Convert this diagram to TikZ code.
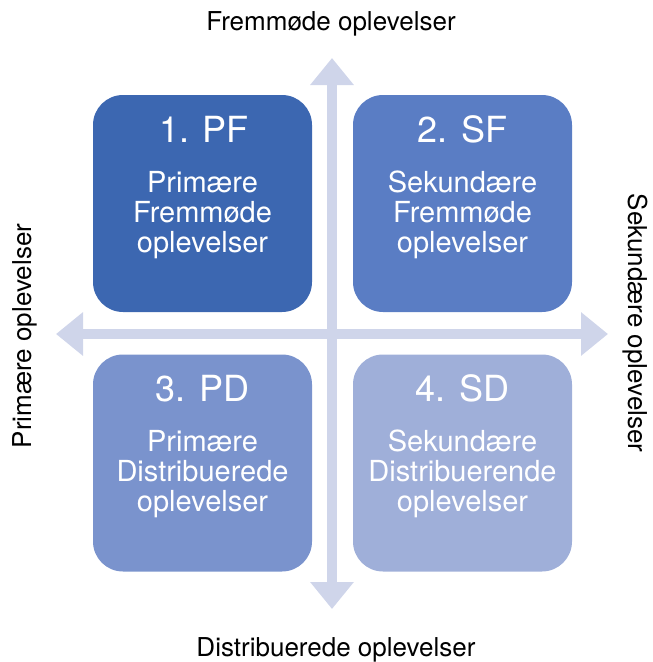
\documentclass[tikz,border=0pt]{standalone}
\usepackage{fontspec}
\setmainfont{TeX Gyre Heros}
\usepackage{tikz}
\usetikzlibrary{arrows.meta}

\definecolor{pfblue}{HTML}{3C67B1}
\definecolor{sfblue}{HTML}{5A7DC4}
\definecolor{pdblue}{HTML}{7A93CD}
\definecolor{sdblue}{HTML}{9FAFD9}
\definecolor{axisgray}{HTML}{CFD5EA}

\begin{document}
\begin{tikzpicture}[
  x=1pt,y=-1pt,
  quad/.style={draw=none,rectangle,rounded corners=30pt,minimum width=219pt,minimum height=217pt,inner sep=0pt},
  qtitle/.style={text=white,anchor=base,font=\fontsize{36}{40}\selectfont},
  qbody/.style={text=white,anchor=north,align=center,inner sep=0pt,font=\fontsize{29}{30}\selectfont},
  axlbl/.style={anchor=base,font=\fontsize{26}{30}\selectfont},
  axis/.style={{Triangle[length=27pt,width=42pt]}-{Triangle[length=27pt,width=42pt]},line width=10pt,axisgray}
]
\useasboundingbox (0,0) rectangle (653,662);

% axes
\coordinate (top) at (332,58);
\coordinate (bottom) at (332,609);
\coordinate (left) at (56,334);
\coordinate (right) at (608,334);
\draw[axis] (bottom) -- (top);
\draw[axis] (left) -- (right);

% quadrants
\node[quad,fill=pfblue] (pf) at (202.5,203.5) {};
\node[quad,fill=sfblue] (sf) at (462.5,203.5) {};
\node[quad,fill=pdblue] (pd) at (202.5,463) {};
\node[quad,fill=sdblue] (sd) at (462.5,463) {};

\node[qtitle] (pft) at (204,142) {1. PF};
\node[qtitle] (sft) at (462.5,142) {2. SF};
\node[qtitle] (pdt) at (202.5,401) {3. PD};
\node[qtitle] (sdt) at (462.5,401) {4. SD};

\node[qbody] (pfb) at (202.5,171) {Primære\\Fremmøde\\oplevelser};
\node[qbody] (sfb) at (462.5,171) {Sekundære\\Fremmøde\\oplevelser};
\node[qbody] (pdb) at (202.5,430) {Primære\\Distribuerede\\oplevelser};
\node[qbody] (sdb) at (462.5,430) {Sekundære\\Distribuerende\\oplevelser};

% axis labels
\node[axlbl] (toplbl) at (331,30) {Fremmøde oplevelser};
\node[axlbl] (botlbl) at (336,656) {Distribuerede oplevelser};
\node[axlbl,rotate=90] (leftlbl) at (31,336) {Primære oplevelser};
\node[axlbl,rotate=-90] (rightlbl) at (628,323) {Sekundære oplevelser};
\end{tikzpicture}
\end{document}
